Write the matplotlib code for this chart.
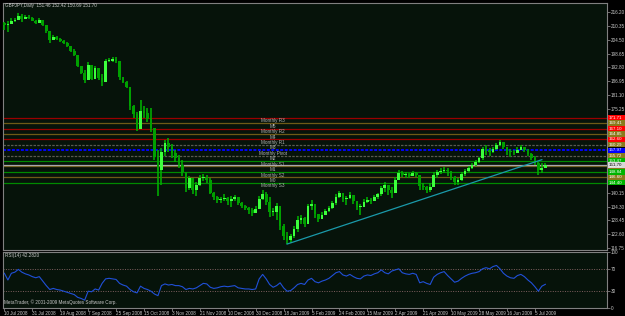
import matplotlib
matplotlib.use("Agg")
import matplotlib.pyplot as plt
from matplotlib.patches import Rectangle
import numpy as np

plt.rcParams["font.family"] = ["Liberation Sans Narrow", "Liberation Sans", "DejaVu Sans"]

# ---------------- data ----------------
title_text = "GBPJPY,Daily  151.46 152.42 150.69 151.70"
rsi_title = "RSI(14) 42.2820"
copyright_text = "MetaTrader, \u00a9 2001-2009 MetaQuotes Software Corp."

highs = [212.0, 212.4, 213.6, 213.6, 215.7, 215.3, 214.9, 214.9, 214.0, 212.8,
         213.6, 212.4, 210.7, 207.7, 206.5, 206.0, 205.2, 204.4, 203.5, 201.8,
         200.6, 196.4, 193.4, 191.8, 195.1, 190.1, 193.4, 191.8, 190.1, 196.4,
         196.8, 197.2, 197.2, 195.6, 188.8, 187.1, 184.6, 177.0, 174.1, 179.1,
         176.6, 175.8, 175.8, 167.4, 158.1, 158.9, 162.3, 163.1, 160.6, 158.1,
         156.0, 153.9, 148.8, 147.2, 145.5, 144.6, 147.6, 148.0, 147.6, 146.3,
         140.4, 138.7, 138.3, 139.6, 138.3, 138.7, 139.2, 137.9, 136.2, 134.9,
         134.1, 133.7, 134.5, 138.7, 141.3, 140.4, 138.3, 133.7, 135.8, 131.2,
         127.0, 123.6, 122.8, 126.1, 130.3, 130.8, 129.9, 135.4, 137.1, 135.4,
         130.8, 132.0, 133.3, 134.5, 136.6, 139.6, 140.8, 139.6, 138.7, 140.4,
         138.3, 136.6, 135.4, 137.5, 138.3, 137.9, 139.2, 140.0, 142.9, 144.6,
         143.4, 142.5, 146.7, 149.7, 149.3, 148.8, 148.4, 149.3, 148.8, 147.2,
         144.2, 142.9, 144.2, 148.8, 149.7, 150.5, 150.9, 150.5, 149.3, 147.2,
         146.3, 148.8, 150.1, 151.4, 152.6, 153.9, 155.2, 159.4, 160.2, 158.9,
         159.4, 161.0, 162.3, 161.5, 158.9, 158.5, 158.1, 159.4, 160.2, 159.4,
         158.5, 156.8, 155.6, 153.0, 152.6, 152.42]

lows = [208.6, 207.7, 211.1, 212.0, 212.8, 212.0, 213.6, 213.2, 212.4, 211.1,
        211.5, 210.3, 207.3, 203.1, 204.8, 204.4, 203.5, 202.7, 201.4, 199.3,
        197.6, 193.0, 190.1, 186.3, 189.2, 187.5, 189.2, 187.5, 185.0, 191.8,
        195.1, 195.1, 194.7, 187.5, 186.3, 184.2, 174.9, 171.6, 166.1, 170.7,
        171.6, 169.9, 165.7, 153.9, 138.8, 143.4, 155.6, 157.2, 154.7, 153.0,
        150.5, 147.2, 140.4, 141.3, 139.6, 138.7, 142.9, 145.1, 144.2, 139.6,
        137.1, 135.8, 135.8, 136.6, 134.9, 134.1, 136.6, 134.9, 133.7, 132.9,
        131.2, 130.3, 132.0, 134.1, 137.1, 134.9, 129.9, 130.3, 128.7, 124.4,
        120.2, 118.5, 119.0, 121.1, 123.6, 127.0, 125.7, 129.5, 132.9, 129.5,
        127.8, 129.5, 130.8, 132.0, 133.3, 134.9, 137.9, 136.2, 134.9, 137.5,
        135.4, 132.9, 130.8, 134.5, 135.8, 135.4, 136.6, 137.5, 138.7, 140.4,
        139.2, 137.9, 141.3, 146.3, 146.7, 146.3, 146.3, 147.2, 146.7, 141.3,
        141.3, 140.0, 140.4, 143.8, 146.3, 148.0, 148.4, 147.2, 145.5, 143.4,
        143.4, 145.1, 147.2, 148.8, 150.1, 151.4, 152.6, 153.9, 156.0, 155.6,
        156.8, 158.1, 159.8, 158.5, 156.0, 155.2, 156.0, 156.8, 158.1, 157.2,
        155.6, 153.9, 151.8, 147.6, 148.4, 150.69]

closes = [210.7, 211.1, 212.4, 212.8, 214.3, 213.2, 214.1, 213.6, 212.4, 211.5,
          212.8, 210.7, 208.0, 204.4, 205.5, 204.8, 203.9, 203.1, 201.8, 199.7,
          197.9, 193.4, 190.5, 187.5, 194.0, 188.0, 192.6, 188.4, 186.7, 195.6,
          195.6, 196.4, 195.6, 188.8, 186.7, 184.6, 176.6, 173.2, 167.0, 174.5,
          173.7, 171.2, 167.4, 155.0, 149.7, 157.2, 161.0, 159.4, 156.8, 154.7,
          151.8, 148.8, 142.1, 146.3, 141.3, 143.4, 146.3, 146.3, 145.5, 140.0,
          138.3, 137.1, 137.5, 137.9, 136.6, 137.5, 138.3, 135.8, 134.5, 133.7,
          132.9, 131.6, 133.3, 137.5, 139.6, 136.2, 132.0, 132.0, 134.5, 126.1,
          121.9, 120.2, 121.9, 124.9, 128.7, 129.5, 127.0, 134.5, 135.4, 131.2,
          129.1, 130.8, 132.4, 133.7, 135.8, 138.3, 140.0, 137.5, 137.9, 139.2,
          136.6, 134.1, 134.1, 136.2, 137.1, 136.6, 138.3, 139.6, 142.1, 143.4,
          141.3, 140.0, 145.5, 148.4, 147.6, 148.0, 147.2, 148.4, 147.6, 143.0,
          142.5, 141.3, 142.5, 147.6, 148.8, 149.3, 149.7, 149.3, 146.7, 144.6,
          145.5, 148.0, 149.3, 150.5, 151.8, 153.0, 154.7, 158.5, 158.1, 157.2,
          158.5, 160.2, 161.5, 159.4, 157.7, 157.2, 156.8, 158.1, 159.4, 158.1,
          156.4, 154.7, 152.6, 149.7, 150.5, 151.70]
first_open = 211.5

rsi = [62, 50, 62, 64, 69, 64, 61, 59, 56, 54,
       56, 48, 40, 33, 35, 33, 32, 30, 28, 26,
       24, 19, 17, 14, 30, 29, 34, 32, 44, 52,
       53, 52, 51, 44, 41, 39, 33, 29, 27, 39,
       35, 33, 30, 25, 22, 40, 43, 41, 42, 40,
       40, 38, 33, 35, 34, 36, 40, 44, 43, 37,
       35, 36, 38, 39, 38, 39, 40, 36, 35, 34,
       34, 33, 34, 52, 60, 52, 42, 37, 40, 45,
       36, 30, 31, 36, 42, 44, 42, 50, 53, 47,
       45, 48, 50, 53, 58, 63, 65, 59, 57, 60,
       56, 53, 52, 57, 59, 58, 61, 63, 68, 63,
       61, 66, 68, 70, 63, 61, 60, 62, 60, 45,
       47, 44, 42, 55, 60, 63, 65, 58, 52, 46,
       48, 53, 57, 60, 62, 63, 65, 70, 72, 70,
       74, 76, 70, 62, 57, 54, 53, 58, 60, 56,
       50, 45, 38, 30, 39, 42.28]

date_labels = ["10 Jul 2008", "31 Jul 2008", "19 Aug 2008", "7 Sep 2008", "25 Sep 2008",
               "15 Oct 2008", "3 Nov 2008", "21 Nov 2008", "10 Dec 2008", "30 Dec 2008",
               "18 Jan 2009", "5 Feb 2009", "24 Feb 2009", "15 Mar 2009", "2 Apr 2009",
               "21 Apr 2009", "10 May 2009", "28 May 2009", "16 Jun 2009", "5 Jul 2009"]
date_every = 8

# price scale labels visible on the right (those under the level boxes are hidden)
price_ticks = [116.75, 122.60, 128.45, 134.30, 140.15,
               175.25, 181.10, 186.95, 192.80, 198.65, 204.50, 210.35, 216.20]

pivot_names = ["Monthly R3", "M5", "Monthly R2", "M4", "Monthly R1", "M3", "Monthly Pivot",
               "M2", "Monthly S1", "M1", "Monthly S2", "M0", "Monthly S3"]
pivot_values = [171.71, 169.41, 167.10, 164.85, 162.60, 160.29, 157.97,
                155.72, 153.47, 151.16, 148.84, 146.60, 144.40]
pivot_kinds = ["R", "M", "R", "M", "R", "Md", "P", "Md", "S", "M", "S", "M", "S"]

bid_price = 151.70
trend_idx = [81, 154]
trend_price = [118.5, 154.0]

rsi_levels = [70, 30]
rsi_ticks = [0, 30, 70, 100]

# ---------------- style ----------------
BG = "#06130a"
GRID = "#808080"
TXT = "#c8c8c8"
FS = 3.3

line_style = {
    "R": dict(color="#9a0000", ls="-", lw=0.9),
    "M": dict(color="#6e5a16", ls="-", lw=0.9),
    "Md": dict(color="#5a5a50", ls=(0, (2, 1)), lw=0.9),
    "P": dict(color="#0000ff", ls=(0, (1.5, 0.8)), lw=1.4),
    "S": dict(color="#008a00", ls="-", lw=0.9),
}
box_color = {"R": "#ff0000", "M": "#8a7a1c", "Md": "#8a7a1c", "P": "#0000ff", "S": "#00b400"}

W, H = 625, 316
fig = plt.figure(figsize=(W / 100, H / 100), dpi=100, facecolor="black")
ax = fig.add_axes([3 / W, (H - 250) / H, 604 / W, 247 / H], facecolor=BG)
ax2 = fig.add_axes([3 / W, (H - 308) / H, 604 / W, 56 / H], facecolor=BG, sharex=ax)

n = len(closes)
x = np.arange(n)
opens = [first_open] + closes[:-1]

# candles
for i in range(n):
    o, c, hi, lo = opens[i], closes[i], highs[i], lows[i]
    ax.vlines(i, lo, hi, color="#00b000", lw=1.15, zorder=3)
    up = c >= o
    bot, top = min(o, c), max(o, c)
    if top - bot < 0.25:
        top = bot + 0.25
    ax.bar(i, top - bot, bottom=bot, width=0.78,
           color="#3dff3d" if up else "#00a000", edgecolor="none", zorder=4)

# pivot lines + names
for name, v, k in zip(pivot_names, pivot_values, pivot_kinds):
    st = line_style[k]
    ax.axhline(v, color=st["color"], ls=st["ls"], lw=st["lw"], zorder=2)
    ax.text(77, v - 0.3, name, ha="center", va="top", fontsize=FS, color="#b4b4b4", zorder=6)

# bid line
ax.axhline(bid_price, color="#a8a8a8", lw=0.9, zorder=2)

# trend line
ax.plot(trend_idx, trend_price, color="#1a9aaa", lw=0.9, zorder=5)

ax.set_xlim(-0.4, -0.4 + 604 / 3.49)
ax.set_ylim(116.0, 219.94)
ax.yaxis.tick_right()
ax.set_yticks(price_ticks)
ax.set_yticklabels([f"{t:.2f}" for t in price_ticks])
ax.tick_params(axis="y", colors=GRID, labelcolor=TXT, labelsize=FS, length=2, width=0.6, pad=0.8)
ax.tick_params(axis="x", bottom=False, labelbottom=False)
for s in ax.spines.values():
    s.set_color(GRID)
    s.set_linewidth(0.8)

# RSI panel
ax2.plot(x, rsi, color="#2050d8", lw=0.8, zorder=3)
for lv in rsi_levels:
    ax2.axhline(lv, color="#806060", ls=(0, (1, 1.5)), lw=0.7, zorder=2)
ax2.set_ylim(0, 100)
ax2.yaxis.tick_right()
ax2.set_yticks(rsi_ticks)
ax2.set_yticklabels([str(t) for t in rsi_ticks])
ax2.tick_params(axis="y", colors=GRID, labelcolor=TXT, labelsize=FS, length=2, width=0.6, pad=0.8)
tick_pos = np.arange(len(date_labels)) * date_every
ax2.set_xticks(tick_pos)
ax2.set_xticklabels(date_labels)
ax2.tick_params(axis="x", colors=GRID, labelcolor=TXT, labelsize=FS, length=2, width=0.6, pad=0.3)
for lab in ax2.get_xticklabels():
    lab.set_horizontalalignment("left")
for s in ax2.spines.values():
    s.set_color(GRID)
    s.set_linewidth(0.8)

# level price boxes on the right scale
def add_box(v, fc, tc):
    ypix = ax.transData.transform((0, v))[1]
    fig.patches.append(Rectangle((608 / W, (ypix - 2.7) / H), 17 / W, 5.4 / H,
                                 transform=fig.transFigure, fc=fc, ec="none", zorder=20))
    fig.text(609 / W, ypix / H, f"{v:.2f}", fontsize=3.2, color=tc, ha="left",
             va="center", zorder=21)

for v, k in zip(pivot_values, pivot_kinds):
    add_box(v, box_color[k], "white")
add_box(bid_price, "#d8d8d8", "black")

# texts
fig.text(5 / W, 1 - 6 / H, title_text, fontsize=FS, color=TXT, va="center", ha="left")
fig.text(5 / W, 1 - 256 / H, rsi_title, fontsize=FS, color=TXT, va="center", ha="left")
fig.text(4 / W, 1 - 302 / H, copyright_text, fontsize=FS, color=TXT, va="center", ha="left")

fig.savefig("out.png", dpi=100, facecolor="black")
